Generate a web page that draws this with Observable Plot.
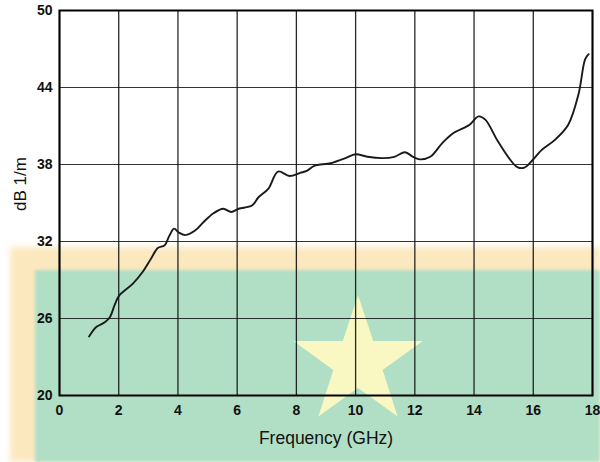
<!DOCTYPE html>
<html>
<head>
<meta charset="utf-8">
<script src="https://cdn.jsdelivr.net/npm/d3@7"></script>
<script src="https://cdn.jsdelivr.net/npm/@observablehq/plot@0.6"></script>
<style>
  html, body { margin: 0; padding: 0; background: #fff; }
  #wrap { position: relative; width: 600px; height: 462px; overflow: hidden; background: #fff; font-family: "Liberation Sans", Arial, sans-serif; }
  .under { position: absolute; pointer-events: none; }
  #peach { left: 10px; top: 247px; right: 0; bottom: 0; background: #fbe8bf; filter: blur(3px); }
  #green { left: 35px; top: 270px; right: 0; bottom: 0; background: #b0dfc5; filter: blur(1.5px); }
  #star { left: 291px; top: 295px; width: 134px; height: 124px; background: #f9f7c2; filter: blur(2px);
          clip-path: polygon(50% 0%, 61.4% 37%, 98.3% 37%, 68.4% 60.5%, 79.6% 98%, 50% 75%, 20.4% 98%, 31.6% 60.5%, 1.7% 37%, 38.6% 37%); }
  #chart { position: absolute; left: 0; top: 0; }
  #chart svg { background: transparent !important; }
</style>
</head>
<body>
<div id="wrap">
  <div id="peach" class="under"></div>
  <div id="green" class="under"></div>
  <div id="star" class="under"></div>
  <div id="chart"></div>
</div>
<script>
// Frequency (GHz)
const freq = [1.0, 1.25, 1.53, 1.7, 1.87, 2.02, 2.47, 2.8, 3.1, 3.32, 3.55, 3.7, 3.87, 4.03, 4.25, 4.58, 4.86, 5.2, 5.53, 5.8, 6.05, 6.5, 6.72, 7.05, 7.38, 7.77, 8.13, 8.35, 8.6, 9.16, 9.66, 10.0, 10.4, 10.91, 11.31, 11.67, 11.94, 12.17, 12.52, 12.92, 13.27, 13.85, 14.15, 14.38, 14.78, 15.18, 15.46, 15.7, 15.98, 16.27, 16.72, 17.18, 17.53, 17.75, 17.87];
// Attenuation (dB 1/m)
const atten = [24.6, 25.35, 25.7, 26.1, 27.1, 27.8, 28.7, 29.6, 30.7, 31.5, 31.7, 32.4, 33.0, 32.7, 32.5, 32.85, 33.5, 34.2, 34.55, 34.3, 34.55, 34.8, 35.45, 36.1, 37.45, 37.1, 37.35, 37.5, 37.9, 38.1, 38.5, 38.8, 38.6, 38.5, 38.6, 38.95, 38.6, 38.4, 38.6, 39.65, 40.4, 41.1, 41.75, 41.5, 39.9, 38.5, 37.8, 37.75, 38.35, 39.1, 39.9, 41.1, 43.5, 46.2, 46.6];
const xTicks = [0, 2, 4, 6, 8, 10, 12, 14, 16, 18];
const yTicks = [20, 26, 32, 38, 44, 50];
const xLabel = "Frequency (GHz)";
const yLabel = "dB 1/m";

const data = freq.map((f, i) => ({f, a: atten[i]}));

const chart = Plot.plot({
  width: 600,
  height: 462,
  marginTop: 10,
  marginLeft: 59,
  marginRight: 8,
  marginBottom: 67,
  style: {background: "transparent", fontFamily: "'Liberation Sans', Arial, sans-serif", color: "#111"},
  x: {domain: [0, 18]},
  y: {domain: [20, 50]},
  marks: [
    Plot.gridX(xTicks, {stroke: "#111", strokeOpacity: 0.9, strokeWidth: 1.3}),
    Plot.gridY(yTicks, {stroke: "#111", strokeOpacity: 0.85, strokeWidth: 1.2}),
    Plot.frame({stroke: "#000", strokeWidth: 2}),
    Plot.axisX(xTicks, {tickSize: 0, tickPadding: 10, fontSize: 14, fontWeight: "bold", label: null}),
    Plot.axisY(yTicks, {tickSize: 0, tickPadding: 7, fontSize: 14, fontWeight: "bold", label: null}),
    Plot.text([xLabel], {frameAnchor: "bottom", dy: 48, fontSize: 17.5, fill: "#111"}),
    Plot.text([yLabel], {frameAnchor: "left", rotate: -90, dx: -39, dy: 8, fontSize: 17, fill: "#111"}),
    Plot.line(data, {x: "f", y: "a", stroke: "#1a1a1a", strokeWidth: 1.9, curve: "catmull-rom"})
  ]
});
document.getElementById("chart").appendChild(chart);
</script>
</body>
</html>
